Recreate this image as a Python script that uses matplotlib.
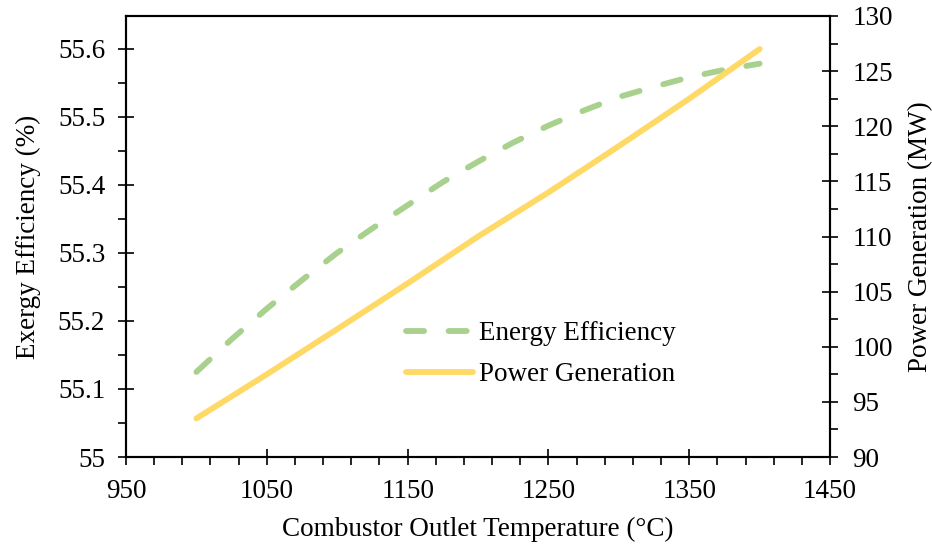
import matplotlib
matplotlib.use("Agg")
import matplotlib.pyplot as plt
import matplotlib.ticker as ticker
from matplotlib.lines import Line2D

plt.rcParams['font.family'] = ['Liberation Serif', 'DejaVu Serif']
plt.rcParams['mathtext.fontset'] = 'stix'

# combustor outlet temperature (C)
temp_eff = [1000, 1025, 1050, 1075, 1100, 1125, 1150, 1175, 1200,
            1225, 1250, 1275, 1300, 1325, 1350, 1375, 1400]
# exergy efficiency (%)
efficiency = [55.125, 55.173, 55.218, 55.260, 55.300, 55.336, 55.370, 55.404, 55.434,
              55.462, 55.487, 55.509, 55.529, 55.544, 55.558, 55.569, 55.578]

temp_pow = [1000, 1050, 1100, 1150, 1200, 1250, 1300, 1350, 1400]
# power generation (MW)
power = [93.5, 97.5, 101.6, 105.75, 110.0, 114.0, 118.2, 122.5, 127.0]

green = '#A9D18E'
gold = '#FFD966'
fs = 19.5
lw = 4.2
dash = (3.1, 4.2)

fig = plt.figure(figsize=(9.32, 5.44), dpi=100)
ax = fig.add_axes([0.1352, 0.1599, 0.8906 - 0.1352, 0.9706 - 0.1599])
ax2 = ax.twinx()

ax.plot(temp_eff, efficiency, color=green, lw=lw, dashes=dash,
        dash_capstyle='round', solid_capstyle='round')
ax2.plot(temp_pow, power, color=gold, lw=lw, solid_capstyle='round')

ax.set_xlim(950, 1450)
ax.set_ylim(55, 55.648)
ax2.set_ylim(90, 130)

ax.xaxis.set_major_locator(ticker.MultipleLocator(100, offset=50))
ax.xaxis.set_minor_locator(ticker.MultipleLocator(20, offset=10))
ax.yaxis.set_major_locator(ticker.MultipleLocator(0.1))
ax.yaxis.set_minor_locator(ticker.MultipleLocator(0.05))
ax.yaxis.set_major_formatter(ticker.FuncFormatter(lambda v, p: '{:g}'.format(round(v, 2))))
ax2.yaxis.set_major_locator(ticker.MultipleLocator(5))
ax2.yaxis.set_minor_locator(ticker.MultipleLocator(2.5))

for a in (ax, ax2):
    for s in a.spines.values():
        s.set_linewidth(1.5)
    a.tick_params(which='major', direction='inout', length=12, width=1.2, labelsize=fs)
    a.tick_params(which='minor', direction='out', length=6, width=1.2)
ax.tick_params(axis='x', which='major', pad=10)
ax.tick_params(axis='y', which='major', pad=9)
ax2.tick_params(axis='y', which='major', pad=10)

ax.set_xlabel('Combustor Outlet Temperature (°C)', fontsize=fs, labelpad=9)
ax.set_ylabel('Exergy Efficiency (%)', fontsize=fs, labelpad=12)
ax2.set_ylabel('Power Generation (MW)', fontsize=fs, labelpad=11)

handles = [Line2D([], [], color=green, lw=lw, dashes=dash, dash_capstyle='round'),
           Line2D([], [], color=gold, lw=lw, solid_capstyle='round')]
ax2.legend(handles, ['Energy Efficiency', 'Power Generation'], loc='upper left',
           bbox_to_anchor=(0.397, 0.308), frameon=False, fontsize=fs,
           handlelength=2.5, handletextpad=0.22, labelspacing=0.6,
           borderpad=0, borderaxespad=0)

fig.savefig('out.png', dpi=100)
